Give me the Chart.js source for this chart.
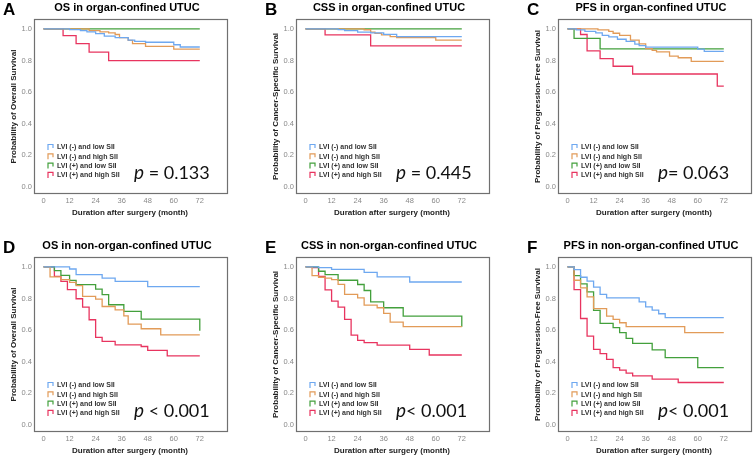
<!DOCTYPE html>
<html>
<head>
<meta charset="utf-8">
<script src="https://cdn.jsdelivr.net/npm/chart.js@4.4.1/dist/chart.umd.min.js"></script>
<style>
  html, body { margin: 0; padding: 0; background: #fff; }
  #wrap { position: relative; width: 753px; height: 458px; overflow: hidden; }
  #wrap canvas { position: absolute; }
</style>
</head>
<body>
<div id="wrap"></div>
<script>
// Groups shared by every panel
const groupLabels = ['LVI (-) and low SII', 'LVI (-) and high SII', 'LVI (+) and low SII', 'LVI (+) and high SII'];
const groupColors = ['#6ea8f0', '#e29b58', '#43a03c', '#e8345f'];

const monthTicks = [0, 12, 24, 36, 48, 60, 72];
const survivalTicks = [0, 0.2, 0.4, 0.6, 0.8, 1.0];

// Kaplan-Meier points: [month, survival after the event at that month]
// A - OS in organ-confined UTUC
const aNegLow = [[0, 1], [12, 0.996], [17, 0.99], [20, 0.982], [24, 0.97], [28, 0.955], [33, 0.945], [39, 0.93], [42, 0.922], [47, 0.916], [60, 0.9], [63, 0.886], [72, 0.886]];
const aNegHigh = [[0, 1], [21, 0.99], [26, 0.982], [30, 0.975], [33, 0.965], [35, 0.945], [39, 0.928], [41, 0.907], [47, 0.89], [60, 0.873], [72, 0.873]];
const aPosLow = [[0, 1], [72, 1]];
const aPosHigh = [[0, 1], [9, 0.958], [15, 0.907], [21, 0.854], [30, 0.8], [72, 0.8]];

// B - CSS in organ-confined UTUC
const bNegLow = [[0, 1], [15, 0.996], [18, 0.99], [24, 0.98], [30, 0.975], [36, 0.966], [42, 0.952], [72, 0.952]];
const bNegHigh = [[0, 1], [27, 0.995], [30, 0.98], [32, 0.972], [35, 0.962], [39, 0.952], [42, 0.945], [60, 0.93], [72, 0.93]];
const bPosLow = [[0, 1], [72, 1]];
const bPosHigh = [[0, 1], [9, 0.962], [30, 0.893], [72, 0.893]];

// C - PFS in organ-confined UTUC
const cNegLow = [[0, 1], [4, 0.994], [8, 0.985], [13, 0.975], [16, 0.96], [19, 0.95], [23, 0.935], [27, 0.922], [31, 0.904], [33, 0.895], [36, 0.885], [60, 0.873], [63, 0.858], [72, 0.858]];
const cNegHigh = [[0, 1], [14, 0.994], [19, 0.985], [21, 0.973], [24, 0.96], [29, 0.929], [33, 0.906], [36, 0.875], [39, 0.864], [41, 0.855], [47, 0.828], [51, 0.818], [57, 0.795], [72, 0.795]];
const cPosLow = [[0, 1], [3, 0.94], [15, 0.874], [72, 0.874]];
const cPosHigh = [[0, 1], [6, 0.965], [9, 0.862], [15, 0.812], [21, 0.764], [30, 0.715], [69, 0.638], [72, 0.638]];

// D - OS in non-organ-confined UTUC
const dNegLow = [[0, 1], [12, 0.987], [15, 0.951], [27, 0.93], [33, 0.909], [48, 0.875], [72, 0.875]];
const dNegHigh = [[0, 1], [3, 0.937], [8, 0.92], [12, 0.903], [15, 0.882], [18, 0.814], [24, 0.797], [27, 0.75], [33, 0.729], [37, 0.691], [39, 0.638], [45, 0.609], [54, 0.571], [72, 0.571]];
const dPosLow = [[0, 1], [5, 0.977], [8, 0.947], [12, 0.915], [15, 0.888], [24, 0.86], [27, 0.825], [30, 0.761], [37, 0.719], [45, 0.67], [72, 0.596]];
const dPosHigh = [[0, 1], [5, 0.941], [8, 0.909], [11, 0.856], [15, 0.799], [18, 0.746], [21, 0.666], [24, 0.554], [27, 0.529], [33, 0.507], [45, 0.497], [48, 0.472], [57, 0.438], [72, 0.438]];

// E - CSS in non-organ-confined UTUC
const eNegLow = [[0, 1], [6, 0.996], [12, 0.985], [27, 0.966], [33, 0.937], [48, 0.905], [72, 0.905]];
const eNegHigh = [[0, 1], [3, 0.945], [6, 0.935], [9, 0.93], [12, 0.92], [15, 0.89], [18, 0.826], [24, 0.805], [27, 0.758], [33, 0.742], [36, 0.706], [39, 0.651], [45, 0.622], [72, 0.622]];
const ePosLow = [[0, 1], [6, 0.973], [9, 0.952], [15, 0.916], [24, 0.889], [27, 0.851], [30, 0.779], [36, 0.742], [45, 0.689], [72, 0.622]];
const ePosHigh = [[0, 1], [3, 0.996], [6, 0.941], [9, 0.855], [12, 0.784], [15, 0.746], [18, 0.668], [21, 0.569], [24, 0.536], [27, 0.521], [33, 0.506], [48, 0.479], [57, 0.443], [72, 0.443]];

// F - PFS in non-organ-confined UTUC
const fNegLow = [[0, 1], [3, 0.983], [6, 0.935], [9, 0.91], [12, 0.872], [15, 0.826], [18, 0.805], [33, 0.779], [36, 0.748], [39, 0.727], [42, 0.704], [45, 0.679], [72, 0.679]];
const fNegHigh = [[0, 1], [3, 0.916], [6, 0.868], [9, 0.811], [12, 0.737], [18, 0.689], [21, 0.668], [24, 0.647], [27, 0.622], [54, 0.584], [72, 0.584]];
const fPosLow = [[0, 1], [3, 0.945], [6, 0.893], [9, 0.842], [12, 0.725], [15, 0.643], [21, 0.616], [24, 0.584], [27, 0.548], [30, 0.517], [39, 0.475], [45, 0.426], [60, 0.363], [72, 0.363]];
const fPosHigh = [[0, 1], [3, 0.857], [6, 0.674], [9, 0.563], [12, 0.479], [15, 0.452], [18, 0.416], [21, 0.363], [24, 0.347], [27, 0.328], [30, 0.311], [39, 0.29], [51, 0.269], [72, 0.269]];

const panelLetters = ['A', 'B', 'C', 'D', 'E', 'F'];
const panelTitles = ['OS in organ-confined UTUC', 'CSS in organ-confined UTUC', 'PFS in organ-confined UTUC',
  'OS in non-organ-confined UTUC', 'CSS in non-organ-confined UTUC', 'PFS in non-organ-confined UTUC'];
const yTitles = ['Probability of Overall Survival', 'Probability of Cancer-Specific Survival', 'Probability of Progression-Free Survival'];
const xTitle = 'Duration after surgery (month)';
const pTexts = [' = 0.133', ' = 0.445', '= 0.063', ' < 0.001', '< 0.001', '< 0.001'];
const panelSeries = [
  [aNegLow, aNegHigh, aPosLow, aPosHigh],
  [bNegLow, bNegHigh, bPosLow, bPosHigh],
  [cNegLow, cNegHigh, cPosLow, cPosHigh],
  [dNegLow, dNegHigh, dPosLow, dPosHigh],
  [eNegLow, eNegHigh, ePosLow, ePosHigh],
  [fNegLow, fNegHigh, fPosLow, fPosHigh]
];

const wrap = document.getElementById('wrap');
const FRAME_W = 194, FRAME_H = 175, LEFT_SPACE = 46, CANVAS_W = 262;

// Extra text around each plot: letter, title, axis titles, legend, p value
const panelDecor = {
  id: 'panelDecor',
  afterDraw(chart, args, o) {
    const ctx = chart.ctx;
    const a = chart.chartArea;
    ctx.save();
    ctx.strokeStyle = '#707070';
    ctx.lineWidth = 1.2;
    ctx.strokeRect(a.left + 0.5, a.top + 0.5, a.right - a.left - 1, a.bottom - a.top - 1);

    ctx.fillStyle = '#000';
    ctx.textBaseline = 'alphabetic';
    ctx.textAlign = 'left';
    ctx.font = 'bold 17px "Liberation Sans"';
    ctx.fillText(o.letter, a.left - 31, a.top - 4);

    ctx.textAlign = 'center';
    ctx.textBaseline = 'middle';
    ctx.font = 'bold 11px "Liberation Sans"';
    ctx.fillText(o.title, a.left + 93, a.top - 11);

    ctx.fillStyle = '#222';
    ctx.font = 'bold 8px "Liberation Sans"';
    ctx.fillText(xTitle, a.left + 96, a.bottom + 19);
    ctx.save();
    ctx.translate(a.left - 20, (a.top + a.bottom) / 2);
    ctx.rotate(-Math.PI / 2);
    ctx.fillText(o.yTitle, 0, 0);
    ctx.restore();

    // legend
    ctx.textAlign = 'left';
    ctx.font = 'bold 7px "Liberation Sans"';
    groupLabels.forEach((lab, i) => {
      const y = a.top + 128 + i * 9.3;
      const x = a.left + 14;
      ctx.strokeStyle = groupColors[i];
      ctx.lineWidth = 1.2;
      ctx.beginPath();
      ctx.moveTo(x, y + 3);
      ctx.lineTo(x, y - 2.5);
      ctx.lineTo(x + 5, y - 2.5);
      ctx.lineTo(x + 5, y + 1);
      ctx.stroke();
      ctx.fillStyle = '#333';
      ctx.fillText(lab, x + 9, y + 0.5);
    });

    // p value
    ctx.fillStyle = '#111';
    ctx.textBaseline = 'alphabetic';
    ctx.font = 'italic 19px "Lato"';
    const px = a.left + 100;
    const py = a.top + 160;
    ctx.fillText('p', px, py);
    const pw = ctx.measureText('p').width;
    ctx.font = '18px "Lato"';
    ctx.fillText(o.pText, px + pw, py);
    ctx.restore();
  }
};

function makePanel(i) {
  const col = i % 3;
  const row = Math.floor(i / 3);
  const frameLeft = 34 + col * 262;
  const canvasTop = row === 0 ? 0 : 228;
  const frameTop = row === 0 ? 19 : 29;
  const canvasH = row === 0 ? 228 : 230;

  const canvas = document.createElement('canvas');
  canvas.width = CANVAS_W;
  canvas.height = canvasH;
  canvas.style.width = CANVAS_W + 'px';
  canvas.style.height = canvasH + 'px';
  canvas.style.left = (frameLeft - LEFT_SPACE) + 'px';
  canvas.style.top = canvasTop + 'px';
  wrap.appendChild(canvas);

  const datasets = panelSeries[i].map((pts, k) => ({
    label: groupLabels[k],
    data: pts.map(p => ({ x: p[0], y: p[1] })),
    borderColor: groupColors[k],
    borderWidth: 1.3,
    pointRadius: 0,
    fill: false,
    stepped: true
  }));

  const tickFont = { family: '"Liberation Sans"', size: 7.5 };

  return new Chart(canvas.getContext('2d'), {
    type: 'line',
    data: { datasets: datasets },
    options: {
      responsive: false,
      animation: false,
      devicePixelRatio: 1,
      layout: { padding: { left: 0, right: CANVAS_W - LEFT_SPACE - FRAME_W, top: frameTop, bottom: 0 } },
      scales: {
        x: {
          type: 'linear',
          min: -4.4,
          max: 85,
          afterBuildTicks: s => { s.ticks = monthTicks.map(v => ({ value: v })); },
          afterFit: s => { s.height = canvasH - frameTop - FRAME_H; },
          grid: { display: false, drawTicks: false },
          border: { display: false },
          ticks: { color: '#8a8a8a', font: tickFont, padding: 2, maxRotation: 0, autoSkip: false }
        },
        y: {
          type: 'linear',
          min: -0.044,
          max: 1.063,
          afterBuildTicks: s => { s.ticks = survivalTicks.map(v => ({ value: v })); },
          afterFit: s => { s.width = LEFT_SPACE; },
          grid: { display: false, drawTicks: false },
          border: { display: false },
          ticks: { color: '#8a8a8a', font: tickFont, padding: 2, callback: v => Number(v).toFixed(1) }
        }
      },
      plugins: {
        legend: { display: false },
        tooltip: { enabled: false },
        panelDecor: {
          letter: panelLetters[i],
          title: panelTitles[i],
          yTitle: yTitles[col],
          pText: pTexts[i]
        }
      }
    },
    plugins: [panelDecor]
  });
}

for (let i = 0; i < 6; i++) makePanel(i);
</script>
</body>
</html>
